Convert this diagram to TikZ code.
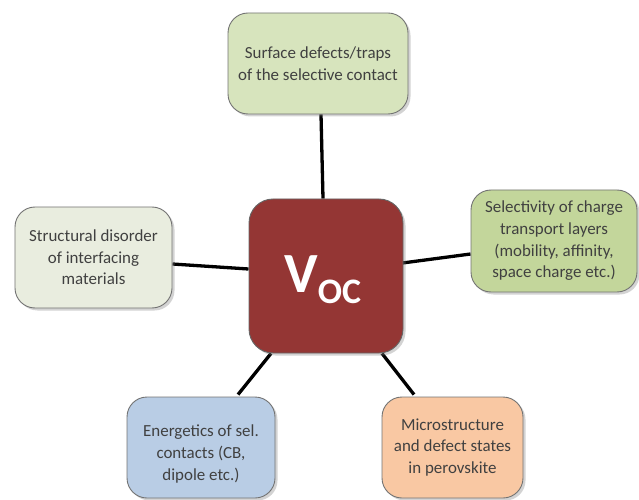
\documentclass[tikz,border=0pt]{standalone}
\usepackage{fontspec}
\setmainfont{Carlito}
\usetikzlibrary{shadows,backgrounds,calc}
\definecolor{cTop}{HTML}{D7E4BD}
\definecolor{cRight}{HTML}{C3D69B}
\definecolor{cLeft}{HTML}{E9EDDF}
\definecolor{cMid}{HTML}{943634}
\definecolor{cBL}{HTML}{B9CDE5}
\definecolor{cBR}{HTML}{F9C8A3}
\begin{document}
\begin{tikzpicture}[x=1bp,y=-1bp,
  box/.style={draw=black!55, line width=0.9bp, rounded corners=20bp, align=center,
    text=black!75, font=\fontsize{17}{21.7}\selectfont, inner sep=0pt,
    drop shadow={shadow xshift=2.5bp, shadow yshift=-2.5bp, opacity=0.35}},
  txt/.style={align=center, text=black!75, font=\fontsize{17}{21.7}\selectfont, inner sep=0pt},
  link/.style={line width=3.3bp, draw=black}]
\useasboundingbox (0,0) rectangle (639,500);

\node[box, fill=cTop, minimum width=180bp, minimum height=101bp] (top) at (318,63.5)
  {Surface defects/traps\\of the selective contact};
\node[box, fill=cRight, minimum width=166bp, minimum height=102bp] (rt) at (554,241)
  {Selectivity of charge\\transport layers\\(mobility, affinity,\\space charge etc.)};
\node[box, fill=cLeft, minimum width=157bp, minimum height=101bp] (lt) at (93.5,257.5)
  {Structural disorder\\of interfacing\\materials};
\node[box, fill=cMid, draw=black!60, rounded corners=24bp, minimum width=154bp, minimum height=154bp] (voc) at (326,276) {};
\node[inner sep=0pt, text=white, anchor=base west] (voctxt) at (284,292)
  {\bfseries{\fontsize{57}{57}\selectfont V}\raisebox{-11bp}{\fontsize{36}{36}\selectfont OC}};
\node[box, fill=cBL, minimum width=148bp, minimum height=101bp] (bl) at (201,447.5) {};
\node[txt] (bltxt) at (201,454) {Energetics of sel.\\contacts (CB,\\dipole etc.)};
\node[box, fill=cBR, minimum width=141bp, minimum height=101bp] (br) at (452.5,447.5)
  {Microstructure\\and defect states\\in perovskite};

\begin{scope}[on background layer]
\draw[link] ($(top.south)+(3,0)$) -- ($(voc.north)+(-3,0)$);
\draw[link] ($(voc.east)+(-1,-13)$) -- ($(rt.west)+(0,13)$);
\draw[link] ($(lt.east)+(0,6.5)$) -- ($(voc.west)+(0,-7)$);
\draw[link] ($(bl.north)+(37,-2)$) -- ($(voc.south)+(-55,0)$);
\draw[link] ($(voc.south)+(56,0)$) -- ($(br.north)+(-38.5,-2)$);
\end{scope}
\end{tikzpicture}
\end{document}
